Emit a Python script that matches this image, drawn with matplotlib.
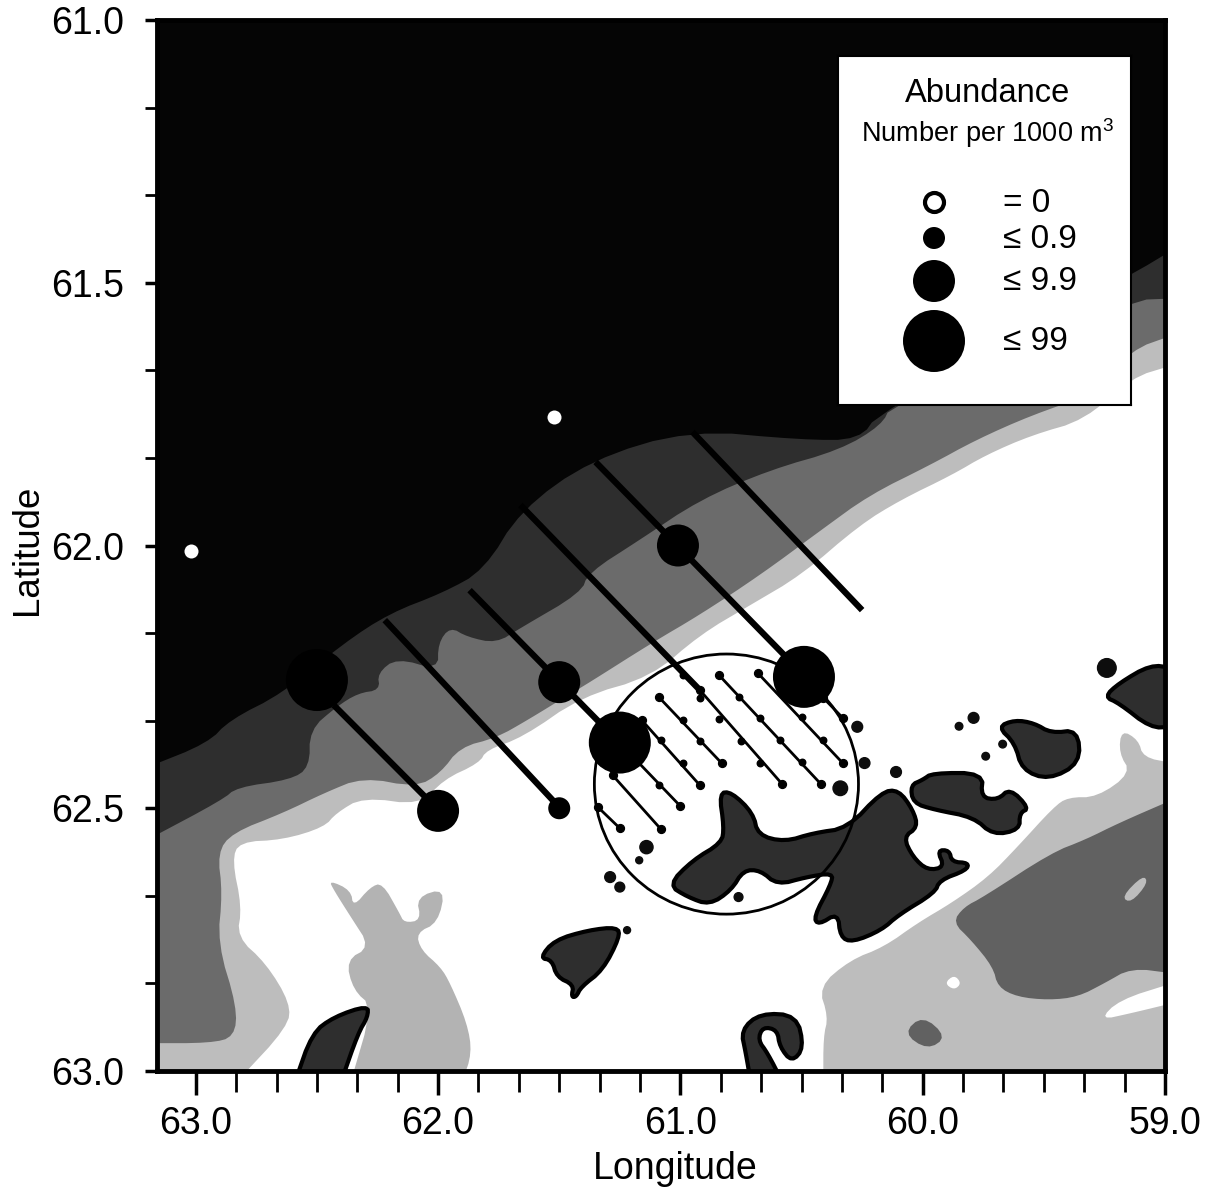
import matplotlib.pyplot as plt
from matplotlib.patches import Ellipse, Polygon, Rectangle

plt.rcParams['font.family'] = ['Liberation Sans', 'DejaVu Sans']
plt.rcParams['mathtext.fontset'] = 'custom'
plt.rcParams['mathtext.rm'] = 'Liberation Sans'

# stations: lon, lat, size class
open_lon = [61.52, 63.02]
open_lat = [61.755, 62.01]
st_lon = [61.01, 60.49, 61.5, 61.25, 62.5, 62.0, 61.5]
st_lat = [62.0, 62.25, 62.26, 62.375, 62.256, 62.505, 62.5]
st_size = [9.9, 99, 9.9, 99, 99, 9.9, 0.9]

# tows (lon0, lat0, lon1, lat1)
tows = [(60.95, 61.784, 60.25, 62.123), (61.35, 61.841, 60.49, 62.247),
        (61.66, 61.923, 60.92, 62.275), (61.87, 62.085, 61.25, 62.376),
        (62.22, 62.142, 61.50, 62.498), (62.43, 62.304, 62.0, 62.503)]
survey_lines = [(60.68, 62.243, 60.33, 62.414), (60.41, 62.290, 60.33, 62.328),
                (60.84, 62.247, 60.42, 62.454), (60.92, 62.275, 60.58, 62.454),
                (61.09, 62.288, 60.83, 62.414), (61.16, 62.332, 60.92, 62.456),
                (61.25, 62.376, 61.0, 62.496), (61.28, 62.437, 61.08, 62.540),
                (61.34, 62.498, 61.25, 62.538)]
bead_lon = [60.50, 60.41, 60.76, 60.67, 60.59, 60.50, 60.99, 60.92, 60.84, 60.75, 60.67, 60.99, 60.92, 61.08, 60.99, 61.09]
bead_lat = [62.326, 62.370, 62.288, 62.328, 62.370, 62.412, 62.247, 62.290, 62.330, 62.372, 62.414, 62.332, 62.372, 62.370, 62.414, 62.456]

# depth zones
deep = [(63.16, 62.422), (62.95, 62.376), (62.86, 62.332), (62.64, 62.281), (62.39, 62.186), (62.20, 62.129),
        (61.98, 62.090), (61.81, 62.047), (61.66, 61.933), (61.37, 61.837), (60.96, 61.780), (60.50, 61.799),
        (60.26, 61.799), (60.18, 61.746), (59.14, 61.485), (59.0, 61.438), (59.0, 61.0), (63.16, 61.0)]
dark = [(63.16, 62.560), (62.89, 62.484), (62.83, 62.460), (62.61, 62.446), (62.53, 62.422), (62.53, 62.351),
        (62.42, 62.307), (62.33, 62.281), (62.24, 62.275), (62.25, 62.243), (62.17, 62.214), (62.00, 62.237),
        (62.00, 62.186), (61.95, 62.155), (61.88, 62.174), (61.76, 62.186), (61.66, 62.157), (61.41, 62.090),
        (61.38, 62.052), (61.17, 61.990), (60.92, 61.913), (60.63, 61.856), (60.34, 61.818), (60.17, 61.771),
        (60.13, 61.733), (59.14, 61.533), (59.0, 61.530), (59.0, 61.0), (63.16, 61.0)]
mid = [(63.16, 62.947), (62.94, 62.947), (62.84, 62.935), (62.83, 62.878), (62.91, 62.757), (62.89, 62.661),
       (62.91, 62.585), (62.85, 62.547), (62.64, 62.509), (62.47, 62.471), (62.31, 62.441), (62.09, 62.460),
       (61.99, 62.433), (61.91, 62.384), (61.76, 62.366), (61.63, 62.332), (61.45, 62.281), (61.38, 62.262),
       (61.12, 62.186), (60.92, 62.132), (60.67, 62.056), (60.42, 61.971), (60.22, 61.904), (59.97, 61.847),
       (59.78, 61.799), (59.55, 61.752), (59.31, 61.714), (59.14, 61.628), (59.0, 61.600), (59.0, 61.0), (63.16, 61.0)]
shelf = [(62.83, 63.0), (62.62, 62.916), (62.61, 62.871), (62.71, 62.795), (62.83, 62.745), (62.81, 62.688),
         (62.85, 62.599), (62.82, 62.564), (62.64, 62.560), (62.47, 62.536), (62.42, 62.509), (62.31, 62.479),
         (62.07, 62.494), (61.98, 62.446), (61.83, 62.414), (61.80, 62.389), (61.65, 62.365), (61.41, 62.288),
         (61.12, 62.250), (60.92, 62.170), (60.71, 62.113), (60.50, 62.056), (60.26, 61.961), (60.09, 61.913),
         (59.88, 61.866), (59.74, 61.828), (59.55, 61.790), (59.33, 61.761), (59.14, 61.681), (59.0, 61.657),
         (59.0, 61.0), (63.16, 61.0), (63.16, 63.0)]
shelf_se = [(60.41, 63.0), (60.41, 62.935), (60.39, 62.897), (60.43, 62.840), (60.30, 62.789), (60.16, 62.764),
            (60.02, 62.718), (59.88, 62.680), (59.73, 62.631), (59.61, 62.574), (59.46, 62.498), (59.40, 62.479),
            (59.28, 62.479), (59.14, 62.433), (59.19, 62.395), (59.18, 62.351), (59.11, 62.370), (59.09, 62.403),
            (59.0, 62.414), (59.0, 63.0)]
basin_se = [(59.876, 62.717), (59.83, 62.688), (59.75, 62.669), (59.47, 62.585), (59.33, 62.560), (59.19, 62.528),
            (59.0, 62.484), (59.0, 62.814), (59.14, 62.804), (59.25, 62.833), (59.36, 62.859), (59.48, 62.865),
            (59.61, 62.859), (59.69, 62.840), (59.71, 62.802), (59.80, 62.751)]
basin_blob = [(60.08, 62.928), (60.0, 62.894), (59.90, 62.935), (59.98, 62.960)]
patch_se = [(59.18, 62.669), (59.09, 62.627), (59.07, 62.642), (59.14, 62.680)]
white_se = [(59.27, 62.903), (59.19, 62.865), (59.0, 62.833), (59.0, 62.871), (59.14, 62.890)]
white_small = [(59.91, 62.833), (59.87, 62.817), (59.84, 62.833), (59.87, 62.846)]
bay = [(62.45, 62.637), (62.36, 62.656), (62.35, 62.688), (62.28, 62.650), (62.23, 62.642), (62.16, 62.699),
       (62.14, 62.718), (62.07, 62.713), (62.09, 62.669), (61.97, 62.652), (62.0, 62.718), (62.09, 62.737),
       (62.07, 62.770), (61.99, 62.802), (61.95, 62.833), (61.88, 62.909), (61.86, 62.966), (61.90, 63.0),
       (62.36, 63.0), (62.27, 62.878), (62.35, 62.846), (62.38, 62.789), (62.28, 62.764), (62.36, 62.707),
       (62.43, 62.656)]

# land
land = [
    [(62.59, 63.0), (62.52, 62.928), (62.43, 62.897), (62.29, 62.875), (62.29, 62.897), (62.33, 62.928), (62.40, 63.0)],
    [(61.58, 62.785), (61.52, 62.751), (61.38, 62.732), (61.26, 62.726), (61.25, 62.745), (61.32, 62.808),
     (61.41, 62.840), (61.43, 62.859), (61.45, 62.859), (61.44, 62.836), (61.51, 62.821), (61.53, 62.789)],
    [(60.84, 62.471), (60.79, 62.469), (60.70, 62.509), (60.68, 62.551), (60.57, 62.564), (60.45, 62.547),
     (60.31, 62.538), (60.17, 62.469), (60.10, 62.465), (60.04, 62.503), (60.02, 62.536), (60.08, 62.555),
     (60.04, 62.593), (59.98, 62.618), (59.91, 62.612), (59.94, 62.580), (59.89, 62.580), (59.88, 62.602),
     (59.81, 62.604), (59.82, 62.618), (59.93, 62.637), (59.95, 62.661), (60.10, 62.703), (60.17, 62.732),
     (60.29, 62.755), (60.34, 62.745), (60.35, 62.699), (60.43, 62.722), (60.45, 62.707), (60.38, 62.646),
     (60.37, 62.623), (60.48, 62.631), (60.60, 62.646), (60.67, 62.618), (60.74, 62.618), (60.79, 62.656),
     (60.88, 62.684), (60.97, 62.669), (61.05, 62.646), (60.95, 62.599), (60.83, 62.566), (60.82, 62.536)],
    [(60.05, 62.456), (60.0, 62.446), (59.96, 62.433), (59.75, 62.433), (59.76, 62.479), (59.69, 62.484),
     (59.64, 62.462), (59.56, 62.500), (59.60, 62.509), (59.60, 62.541), (59.71, 62.551), (59.79, 62.517),
     (59.95, 62.503), (60.04, 62.490)],
    [(59.69, 62.345), (59.62, 62.332), (59.54, 62.338), (59.47, 62.357), (59.36, 62.351), (59.35, 62.414),
     (59.48, 62.446), (59.59, 62.427), (59.62, 62.376)],
    [(59.25, 62.288), (59.19, 62.262), (59.06, 62.227), (59.0, 62.233), (59.0, 62.345), (59.06, 62.347), (59.19, 62.300)],
    [(60.75, 62.922), (60.67, 62.890), (60.52, 62.894), (60.49, 62.956), (60.54, 62.983), (60.59, 62.954),
     (60.60, 62.922), (60.66, 62.916), (60.68, 62.941), (60.64, 62.966), (60.58, 63.0), (60.71, 63.0), (60.73, 62.966)],
]
islet_lon = [59.24, 60.27, 60.24, 60.11, 60.34, 59.79, 59.85, 59.67, 59.74, 60.76, 61.22, 61.14, 61.17, 61.29, 61.25]
islet_lat = [62.233, 62.345, 62.414, 62.431, 62.462, 62.328, 62.344, 62.378, 62.401, 62.669, 62.732, 62.574, 62.599, 62.631, 62.650]
islet_s = [180, 60, 60, 60, 110, 60, 30, 30, 30, 40, 25, 90, 25, 60, 50]

legend_labels = ['= 0', '≤ 0.9', '≤ 9.9', '≤ 99']

radius = {0.9: 11, 9.9: 21, 99: 31}  # px


def area(r):
    return (r * 2 * 72 / 100) ** 2


def smooth(points, rounds=2):
    # corner cutting, frame vertices are repeated so they stay where they are
    pts = []
    for lon, lat in points:
        on_frame = lon <= 59.0 or lon >= 63.16 or lat <= 61.0 or lat >= 63.0
        if lon <= 59.0:
            lon = 58.97
        if lon >= 63.16:
            lon = 63.2
        if lat <= 61.0:
            lat = 60.98
        if lat >= 63.0:
            lat = 63.02
        pts += [(lon, lat)] * (3 if on_frame else 1)
    for _ in range(rounds):
        new = []
        for i in range(len(pts)):
            x0, y0 = pts[i]
            x1, y1 = pts[(i + 1) % len(pts)]
            new.append((0.75 * x0 + 0.25 * x1, 0.75 * y0 + 0.25 * y1))
            new.append((0.25 * x0 + 0.75 * x1, 0.25 * y0 + 0.75 * y1))
        pts = new
    return pts


fig = plt.figure(figsize=(12.10, 11.91), dpi=100)
ax = fig.add_axes([157 / 1210, 1 - 1071 / 1191, 1008 / 1210, 1051 / 1191])
ax.set_xlim(63.16, 59.0)
ax.set_ylim(63.0, 61.0)

for zone, col, z in [(shelf, '0.74', 1), (shelf_se, '0.74', 1), (bay, '0.70', 2), (basin_se, '0.38', 2),
                     (patch_se, '0.74', 3), (white_se, 'white', 3), (white_small, 'white', 3),
                     (basin_blob, '0.38', 3), (mid, '0.42', 3), (dark, '0.18', 4), (deep, '0.02', 5)]:
    ax.add_patch(Polygon(smooth(zone), closed=True, fc=col, ec='none', zorder=z))

for poly in land:
    ax.add_patch(Polygon(smooth(poly), closed=True, fc='0.18', ec='black', lw=3, joinstyle='round', zorder=6))
ax.scatter(islet_lon, islet_lat, s=islet_s, c='0.05', zorder=6)

ax.add_patch(Ellipse((60.81, 62.454), 1.09, 0.495, fc='none', ec='black', lw=2, zorder=7))

for lon0, lat0, lon1, lat1 in tows:
    ax.plot([lon0, lon1], [lat0, lat1], color='black', lw=4.5, solid_capstyle='butt', zorder=8)
for lon0, lat0, lon1, lat1 in survey_lines:
    ax.plot([lon0, lon1], [lat0, lat1], color='black', lw=2, zorder=8)
    ax.scatter([lon0, lon1], [lat0, lat1], s=32, c='black', zorder=8)
ax.scatter(bead_lon, bead_lat, s=22, c='black', zorder=8)

ax.scatter(st_lon, st_lat, s=[area(radius[v]) for v in st_size], c='black', linewidths=0, zorder=9)
ax.scatter(open_lon, open_lat, s=area(7), c='white', linewidths=0, zorder=9)

# axes
ax.set_xticks([63, 62, 61, 60, 59])
ax.set_xticklabels(['63.0', '62.0', '61.0', '60.0', '59.0'], fontsize=27)
ax.set_xticks([63 - i / 6 for i in range(25) if i % 6 != 0], minor=True)
ax.set_yticks([61.0, 61.5, 62.0, 62.5, 63.0])
ax.set_yticklabels(['61.0', '61.5', '62.0', '62.5', '63.0'], fontsize=27)
ax.set_yticks([61 + i / 6 for i in range(13) if i % 3 != 0], minor=True)
ax.tick_params(axis='x', which='major', length=17, width=2.5, pad=8)
ax.tick_params(axis='x', which='minor', length=15, width=2)
ax.tick_params(axis='y', which='major', length=9, width=2.5, pad=15)
ax.tick_params(axis='y', which='minor', length=9, width=2)
for s in ax.spines.values():
    s.set_linewidth(3.5)
    s.set_zorder(20)
ax.set_xlabel('Longitude', fontsize=27, va='center')
ax.xaxis.set_label_coords(0.514, -98 / 1051)
ax.set_ylabel('Latitude', fontsize=26.5, va='center')
ax.yaxis.set_label_coords(-129 / 1008, 521 / 1051)

# legend panel, placed in figure fractions
ax2 = fig.add_axes([838 / 1210, 1 - 405 / 1191, 293 / 1210, 349 / 1191], zorder=30)
ax2.set_xlim(838, 1131)
ax2.set_ylim(405, 56)
ax2.set_xticks([])
ax2.set_yticks([])
for s in ax2.spines.values():
    s.set_linewidth(1.5)
ax2.add_patch(Rectangle((838, 56), 293, 349, fc='white', ec='none'))
ax2.text(988, 94, 'Abundance', fontsize=23.5, ha='center', va='center')
ax2.text(988, 133, r'Number per 1000 m$\mathrm{^{3}}$', fontsize=19.5, ha='center', va='center')
ax2.scatter([934], [202], s=area(9.5), fc='white', ec='black', lw=3)
ax2.scatter([934, 934, 934], [238, 281, 341], s=[area(11), area(21), area(31)], c='black', linewidths=0)
for lab, yy in zip(legend_labels, [203, 240, 282, 341]):
    ax2.text(1003, yy, lab, fontsize=24, ha='left', va='center')

fig.savefig('out.png', dpi=100)
